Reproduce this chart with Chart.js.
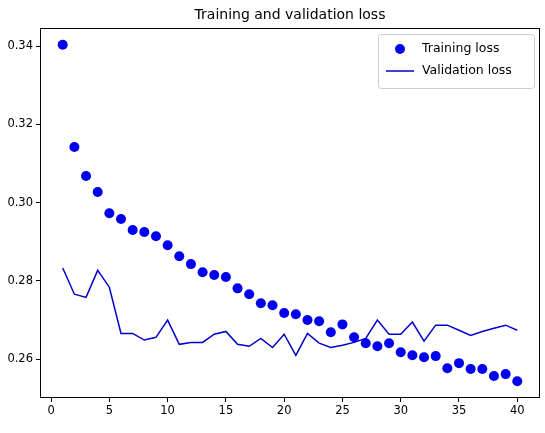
<!DOCTYPE html>
<html><head><script src="https://cdn.jsdelivr.net/npm/chart.js@4"></script>
<style>html,body{margin:0;padding:0;background:#fff}</style></head>
<body><div style="width:545px;height:433px"><canvas id="c"></canvas></div>
<script>
const epochs = Array.from({length:40},(_,i)=>i+1);
const trainingLoss = [0.3403,0.3142,0.3068,0.3027,0.2973,0.2958,0.2930,0.2925,0.2914,0.2891,0.2863,0.2843,0.2822,0.2815,0.2810,0.2781,0.2766,0.2743,0.2738,0.2718,0.2715,0.2700,0.2697,0.2669,0.2689,0.2656,0.2641,0.2633,0.2641,0.2618,0.2610,0.2605,0.2608,0.2577,0.2590,0.2575,0.2575,0.2557,0.2562,0.2544];
const validationLoss = [0.2833,0.2766,0.2758,0.2827,0.2784,0.2666,0.2666,0.2649,0.2656,0.2700,0.2638,0.2643,0.2643,0.2664,0.2671,0.2638,0.2633,0.2653,0.2630,0.2664,0.2610,0.2666,0.2641,0.2630,0.2636,0.2643,0.2653,0.2700,0.2664,0.2664,0.2695,0.2646,0.2687,0.2687,0.2674,0.2661,0.2671,0.2679,0.2687,0.2674];
const xTicks = [0,5,10,15,20,25,30,35,40];
const yTicks = [0.26,0.28,0.30,0.32,0.34];
const FONT = "'DejaVu Sans', sans-serif";
const frame = {
  id:'frame',
  afterDraw(ch){
    const {ctx, chartArea:a} = ch;
    ctx.save();
    ctx.strokeStyle='#000'; ctx.lineWidth=1;
    ctx.strokeRect(a.left+0.5,a.top+0.5,a.right-a.left-1,a.bottom-a.top-1);
    ctx.fillStyle='#000'; ctx.font="14px "+FONT; ctx.textAlign='center'; ctx.textBaseline='bottom';
    ctx.fillText('Training and validation loss',(a.left+a.right)/2,a.top-6);
    const w=156,h=54,x=a.right-w-6,y=a.top+6;
    ctx.fillStyle='rgba(255,255,255,0.8)'; ctx.strokeStyle='#ccc';
    ctx.beginPath(); ctx.roundRect(x+0.5,y+0.5,w,h,3); ctx.fill(); ctx.stroke();
    ctx.font="12.5px "+FONT; ctx.textAlign='left'; ctx.textBaseline='middle';
    ctx.fillStyle='#0000ee';
    ctx.beginPath(); ctx.arc(x+22,y+15,5,0,Math.PI*2); ctx.fill();
    ctx.strokeStyle='#0000cc'; ctx.lineWidth=1.5;
    ctx.beginPath(); ctx.moveTo(x+8,y+37); ctx.lineTo(x+36,y+37); ctx.stroke();
    ctx.fillStyle='#000';
    ctx.fillText(ch.data.datasets[0].label,x+44,y+15);
    ctx.fillText(ch.data.datasets[1].label,x+44,y+37);
    ctx.restore();
  }
};
const gridOpts = {drawOnChartArea:false,drawTicks:true,tickLength:4,color:'#000',lineWidth:1};
new Chart(document.getElementById('c'),{
  type:'line',
  data:{datasets:[
    {label:'Training loss',data:epochs.map((e,i)=>({x:e,y:trainingLoss[i]})),showLine:false,pointRadius:5,pointBackgroundColor:'#0000ee',pointBorderWidth:0,borderColor:'#0000ee'},
    {label:'Validation loss',data:epochs.map((e,i)=>({x:e,y:validationLoss[i]})),borderColor:'#0000cc',borderWidth:1.5,pointRadius:0,tension:0}
  ]},
  options:{
    responsive:true,maintainAspectRatio:false,animation:false,
    layout:{padding:{top:28,right:5,left:0,bottom:0}},
    plugins:{legend:{display:false},tooltip:{enabled:false}},
    scales:{
      x:{type:'linear',min:-0.95,max:41.95,grid:gridOpts,border:{display:false},
        afterBuildTicks(s){s.ticks=xTicks.map(v=>({value:v}));},
        afterFit(s){s.height=35;},
        ticks:{color:'#000',font:{family:FONT,size:11.5},padding:2,maxRotation:0,autoSkip:false}},
      y:{min:0.2501,max:0.3446,grid:gridOpts,border:{display:false},
        afterBuildTicks(s){s.ticks=yTicks.map(v=>({value:v}));},
        afterFit(s){s.width=40;},
        ticks:{color:'#000',font:{family:FONT,size:11.5},padding:3,callback:v=>v.toFixed(2)}}
    }
  },
  plugins:[frame]
});
</script></body></html>
